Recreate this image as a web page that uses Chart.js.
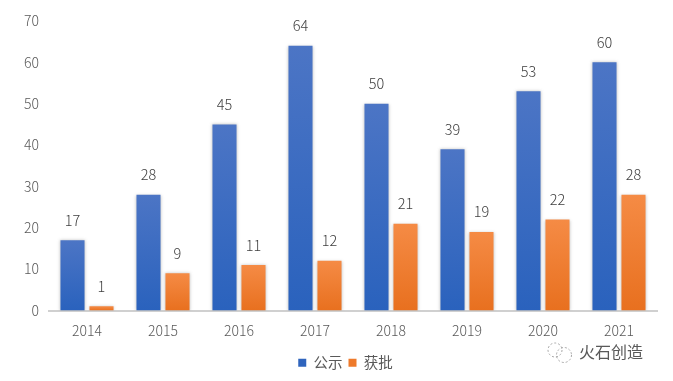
<!DOCTYPE html>
<html lang="zh">
<head>
  <meta charset="UTF-8">
  <title>公示 获批</title>
  <script src="https://cdn.jsdelivr.net/npm/chart.js"></script>
  <style>
    * { margin: 0; padding: 0; box-sizing: border-box; }
    body { background: #fff; width: 673px; height: 381px; overflow: hidden; }
    #wrap { width: 673px; height: 381px; position: relative; }
  </style>
</head>
<body>
  <div id="wrap"><canvas id="chart"></canvas></div>

  <script>
    const years = ['2014', '2015', '2016', '2017', '2018', '2019', '2020', '2021'];
    const published = [17, 28, 45, 64, 50, 39, 53, 60];
    const approved = [1, 9, 11, 12, 21, 19, 22, 28];
    const yTicks = [0, 10, 20, 30, 40, 50, 60, 70];
    const watermark = '火石创造';

    const FONT = "'Noto Sans CJK SC', 'Noto Sans', sans-serif";
    const TEXT = '#595959';

    // Office style vertical gradient, runs from the top of each bar to the axis
    function barFill(top, bottom) {
      return function (c) {
        const y = c.chart.scales.y;
        if (!y || !c.parsed || y.bottom === undefined) return bottom;
        const g = c.chart.ctx.createLinearGradient(0, y.getPixelForValue(c.parsed.y), 0, y.getPixelForValue(0));
        g.addColorStop(0, top);
        g.addColorStop(1, bottom);
        return g;
      };
    }

    // soft glow round the bars + legend nudged right of the plot centre
    const barGlow = {
      id: 'barGlow',
      afterLayout(chart) {
        chart.legend.left += 17;
        chart.legend.right += 17;
      },
      beforeDatasetsDraw(chart) {
        chart.ctx.save();
        chart.ctx.shadowColor = 'rgba(60,60,60,0.3)';
        chart.ctx.shadowBlur = 3;
      },
      afterDatasetsDraw(chart) {
        chart.ctx.restore();
      }
    };

    // numbers above the bars, sits about 20px over the top like the original
    const barValues = {
      id: 'barValues',
      afterDatasetsDraw(chart) {
        const ctx = chart.ctx;
        ctx.save();
        ctx.font = '300 14.5px ' + FONT;
        ctx.fillStyle = '#404040';
        ctx.textAlign = 'center';
        ctx.textBaseline = 'middle';
        chart.data.datasets.forEach((ds, i) => {
          chart.getDatasetMeta(i).data.forEach((bar, j) => {
            ctx.fillText(ds.data[j], bar.x, bar.y - 20);
          });
        });
        ctx.restore();
      }
    };

    // the wechat logo and account name in the corner
    const corner = {
      id: 'corner',
      afterDraw(chart) {
        const ctx = chart.ctx;
        ctx.save();
        ctx.strokeStyle = '#a6a6a6';
        ctx.lineWidth = 1;
        ctx.setLineDash([2, 2]);
        ctx.beginPath();
        ctx.arc(555, 350, 7, 0, Math.PI * 2);
        ctx.stroke();
        ctx.beginPath();
        ctx.arc(564, 355, 7.5, 0, Math.PI * 2);
        ctx.stroke();
        ctx.setLineDash([]);
        ctx.font = '16px ' + FONT;
        ctx.fillStyle = '#595959';
        ctx.textAlign = 'left';
        ctx.textBaseline = 'middle';
        ctx.fillText(watermark, 579, 352);
        ctx.restore();
      }
    };

    new Chart(document.getElementById('chart'), {
      type: 'bar',
      data: {
        labels: years,
        datasets: [
          {
            label: '公示',
            data: published,
            backgroundColor: barFill('#4c75c5', '#2a62bd'),
            categoryPercentage: 0.763,
            barPercentage: 0.83
          },
          {
            label: '获批',
            data: approved,
            backgroundColor: barFill('#f58b45', '#e8701f'),
            categoryPercentage: 0.763,
            barPercentage: 0.83
          }
        ]
      },
      options: {
        responsive: true,
        maintainAspectRatio: false,
        animation: false,
        layout: { padding: { top: 21, right: 16, bottom: 1, left: 0 } },
        plugins: {
          tooltip: { enabled: false },
          legend: {
            position: 'bottom',
            labels: {
              boxWidth: 8,
              boxHeight: 8,
              padding: 6,
              color: TEXT,
              font: { family: FONT, size: 14.5 },
              generateLabels() {
                return [
                  { text: '公示', fillStyle: '#2f64bd', strokeStyle: '#2f64bd', lineWidth: 0, fontColor: TEXT },
                  { text: '获批', fillStyle: '#ee7a2b', strokeStyle: '#ee7a2b', lineWidth: 0, fontColor: TEXT }
                ];
              }
            }
          }
        },
        scales: {
          x: {
            grid: { display: false, drawTicks: false },
            border: { color: '#d0d0d0', width: 2 },
            ticks: { color: TEXT, padding: 12, font: { family: FONT, size: 14, weight: '300' } },
            afterFit(scale) { scale.height = 39; }
          },
          y: {
            min: 0,
            max: 70,
            afterBuildTicks(scale) { scale.ticks = yTicks.map(v => ({ value: v })); },
            grid: { display: false, drawTicks: false },
            border: { display: false },
            ticks: { color: TEXT, padding: 10, font: { family: FONT, size: 14, weight: '300' } },
            afterFit(scale) { scale.width = 49; }
          }
        }
      },
      plugins: [barGlow, barValues, corner]
    });
  </script>
</body>
</html>
